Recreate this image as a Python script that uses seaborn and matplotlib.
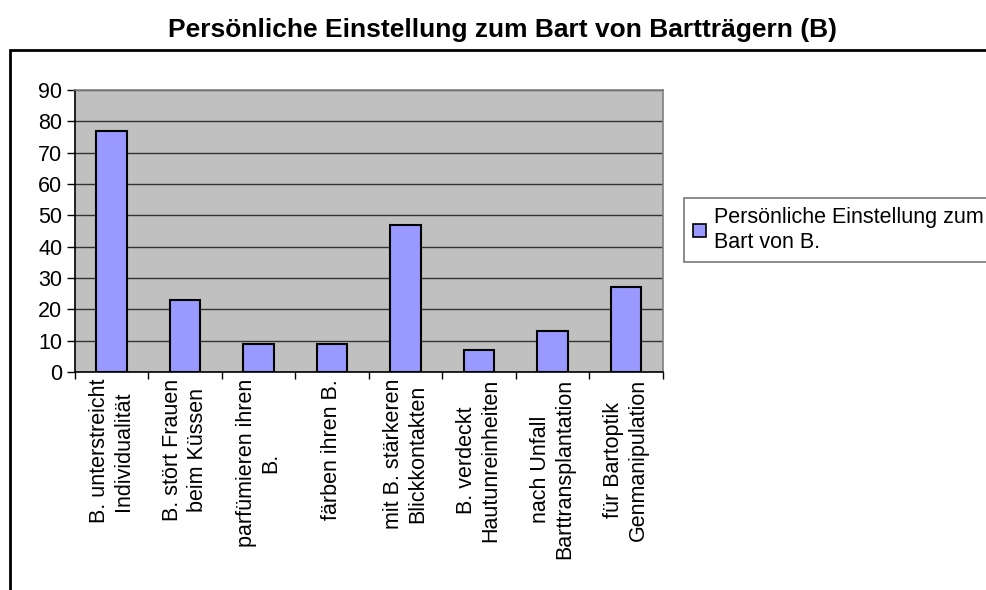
import matplotlib
matplotlib.use("Agg")
import matplotlib.pyplot as plt
import matplotlib.patches as mpatches
import seaborn as sns

# Chart data
categories = [
    "B. unterstreicht\nIndividualität",
    "B. stört Frauen\nbeim Küssen",
    "parfümieren ihren\nB.",
    "färben ihren B.",
    "mit B. stärkeren\nBlickkontakten",
    "B. verdeckt\nHautunreinheiten",
    "nach Unfall\nBarttransplantation",
    "für Bartoptik\nGenmanipulation",
]
values = [77, 23, 9, 9, 47, 7, 13, 27]
series_label = "Persönliche Einstellung zum\nBart von B."
title = "Persönliche Einstellung zum Bart von Bartträgern (B)"
y_ticks = list(range(0, 91, 10))

sns.set_style("white")
plt.rcParams["font.family"] = ["Liberation Sans", "DejaVu Sans"]
plt.rcParams["text.color"] = "black"
plt.rcParams["xtick.color"] = "black"
plt.rcParams["ytick.color"] = "black"

fig = plt.figure(figsize=(9.86, 5.90), dpi=100)
ax = fig.add_axes([74.7 / 986, 1 - 372 / 590, (662.7 - 74.7) / 986, (372 - 90) / 590])

# outer chart border
fig.patches.append(mpatches.Rectangle((10 / 986, -0.05), 1.0, 1 - 50 / 590 + 0.05,
                                      transform=fig.transFigure, fill=False,
                                      edgecolor="black", linewidth=2, zorder=0))

ax.set_facecolor("#C0C0C0")
sns.barplot(x=categories, y=values, color="#9999FF", saturation=1, width=0.41,
            edgecolor="black", linewidth=1.5, ax=ax)

ax.set_ylim(0, 90)
ax.set_xlim(-0.5, len(categories) - 0.5)
ax.set_yticks(y_ticks)
ax.yaxis.grid(True, color="#333333", linewidth=1)
ax.set_axisbelow(True)
for b in ax.patches:
    b.set_zorder(3)

ax.set_xticks(range(len(categories)))
ax.set_xticklabels(categories, rotation=90, va="top", ha="center",
                   multialignment="center", fontsize=15.5)
ax.set_xticks([i - 0.5 for i in range(len(categories) + 1)], minor=True)
ax.tick_params(axis="x", which="major", length=0, pad=5)
ax.tick_params(axis="x", which="minor", length=5, width=1, color="black", direction="out", bottom=True)
ax.tick_params(axis="y", length=6, width=1, color="black", direction="out", labelsize=15.5, pad=3, left=True)

for side in ["left", "bottom"]:
    ax.spines[side].set_color("black")
    ax.spines[side].set_linewidth(1.2)
for side in ["top", "right"]:
    ax.spines[side].set_visible(True)
    ax.spines[side].set_color("#808080")
    ax.spines[side].set_linewidth(1.2)

ax.set_xlabel("")
ax.set_ylabel("")

handle = mpatches.Patch(facecolor="#9999FF", edgecolor="black", linewidth=1.2, label=series_label)
leg = ax.legend(handles=[handle], loc="upper left",
                bbox_to_anchor=(684 / 986, 1 - 198 / 590), bbox_transform=fig.transFigure,
                frameon=True, fancybox=False, fontsize=15.5, handlelength=0.6, handleheight=0.6,
                handletextpad=0.4, borderpad=0.4, borderaxespad=0)
leg.get_frame().set_edgecolor("#555555")
leg.get_frame().set_linewidth(1.2)
for t in leg.get_texts():
    t.set_linespacing(1.3)

fig.suptitle(title, x=0.51, y=1 - 30 / 590, va="center", fontsize=19, fontweight="bold", color="black")

fig.savefig("out.png", dpi=100)
